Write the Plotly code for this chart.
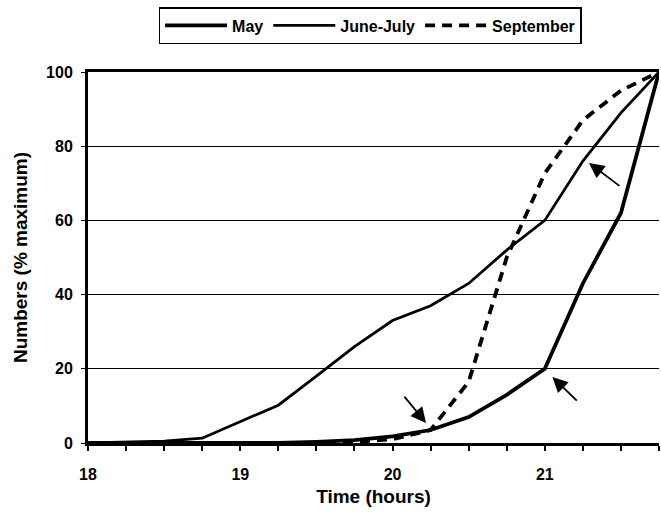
import plotly.graph_objects as go

hours = [18, 18.25, 18.5, 18.75, 19, 19.25, 19.5, 19.75, 20, 20.25, 20.5, 20.75, 21, 21.25, 21.5, 21.75]
may = [0, 0, 0, 0, 0, 0, 0.3, 0.8, 1.8, 3.5, 7, 13, 20, 43, 62, 100]
june_july = [0, 0.2, 0.5, 1.3, 5.7, 10.2, 18, 26, 33, 37, 43, 52, 60, 76, 89, 100]
september = [0, 0, 0, 0, 0, 0, 0, 0.3, 1, 3.5, 16.5, 50, 72.7, 87, 95, 100]

# arrows: (tail_x, tail_y, head_x, head_y)
arrows = [
    (20.07, 12.9, 20.22, 5.4),
    (21.22, 11.0, 21.05, 17.8),
    (21.50, 69.0, 21.29, 75.5),
]

FONT = "Liberation Sans, Arial, sans-serif"

fig = go.Figure()
fig.add_trace(go.Scatter(x=hours, y=may, mode="lines", name="May",
                         line=dict(color="black", width=3.8)))
fig.add_trace(go.Scatter(x=hours, y=june_july, mode="lines", name="June-July",
                         line=dict(color="black", width=2.8)))
fig.add_trace(go.Scatter(x=hours, y=september, mode="lines", name="September",
                         line=dict(color="black", width=3.8, dash="10px,7px")))

for tx, ty, hx, hy in arrows:
    fig.add_annotation(x=hx, y=hy, ax=tx, ay=ty, xref="x", yref="y", axref="x", ayref="y",
                       showarrow=True, arrowhead=2, arrowsize=1.7, arrowwidth=1.8,
                       arrowcolor="black", text="")

fig.update_layout(
    width=661, height=524,
    margin=dict(l=88, r=2, t=72, b=81),
    paper_bgcolor="white", plot_bgcolor="white",
    font=dict(family=FONT, color="black", size=15),
    showlegend=True,
    legend=dict(orientation="h", x=0.494, xanchor="center", y=1.175, yanchor="top",
                bordercolor="black", borderwidth=1.5, bgcolor="white",
                font=dict(family=FONT, size=16, weight="bold"),
                itemwidth=62, tracegroupgap=0),
)
fig.update_xaxes(
    range=[18, 21.75], dtick=1, tick0=18,
    showline=True, linecolor="black", linewidth=3, mirror=True,
    ticks="outside", ticklen=5, tickwidth=1.5, tickcolor="black",
    minor=dict(dtick=0.25, ticks="outside", ticklen=5, tickwidth=1.5, tickcolor="black"),
    showgrid=False, zeroline=False, ticklabelstandoff=10, automargin=False,
    tickfont=dict(family=FONT, size=16, weight="bold"),
    title=dict(text="Time (hours)", font=dict(family=FONT, size=19, weight="bold"), standoff=8),
)
fig.update_yaxes(
    range=[0, 100], dtick=20,
    showline=True, linecolor="black", linewidth=3,
    ticks="outside", ticklen=4, tickwidth=1, tickcolor="black",
    showgrid=True, gridcolor="black", gridwidth=1, zeroline=False, ticklabelstandoff=5,
    automargin=False,
    tickfont=dict(family=FONT, size=16, weight="bold"),
    title=dict(text="Numbers (% maximum)", font=dict(family=FONT, size=19, weight="bold"), standoff=14),
)

fig.write_html("out.html", config={"displayModeBar": False},
               post_script="document.body.style.margin='0';document.body.style.overflow='hidden';")
